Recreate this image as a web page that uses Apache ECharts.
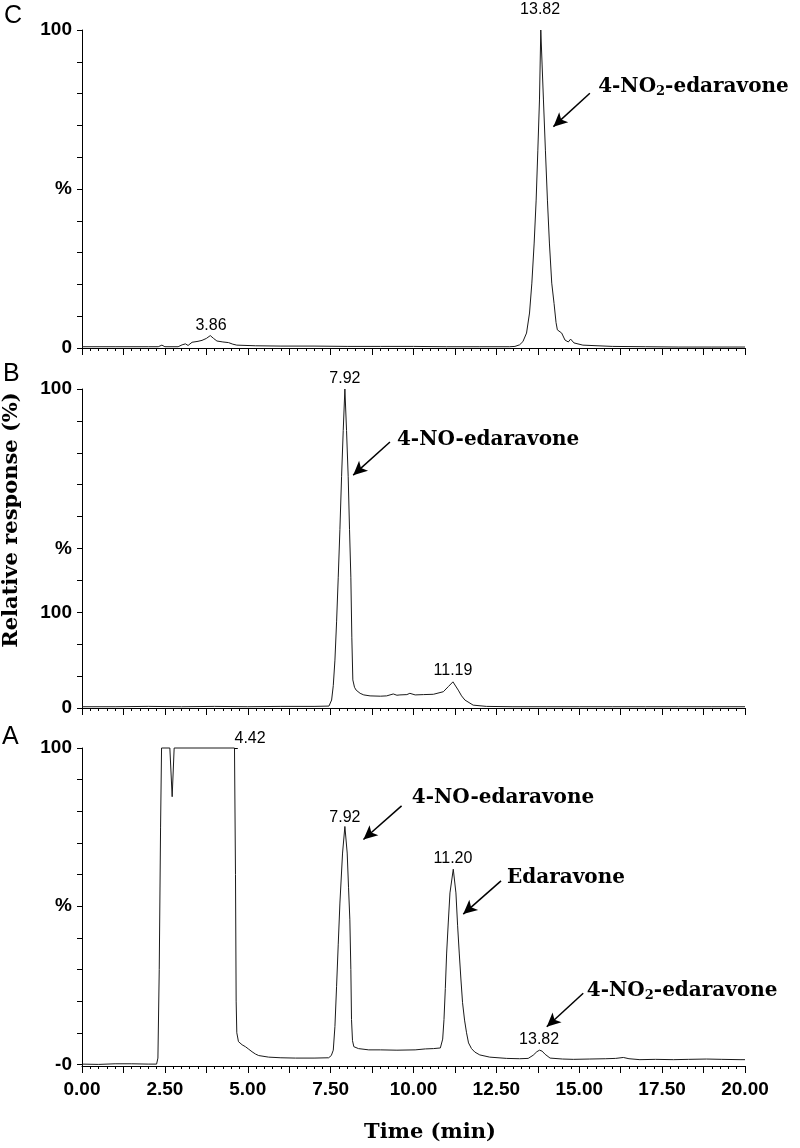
<!DOCTYPE html>
<html>
<head>
<meta charset="utf-8">
<script src="https://cdn.jsdelivr.net/npm/echarts@6/dist/echarts.min.js"></script>
<style>
html,body{margin:0;padding:0;background:#fff;}
#chart{width:800px;height:1148px;}
</style>
</head>
<body>
<div id="chart"></div>
<script>
// ---------- DATA ----------
const xTickLabels = ['0.00','2.50','5.00','7.50','10.00','12.50','15.00','17.50','20.00'];

// Panel C trace [time (min), relative response (%)]
const traceC = [[0,0.4],[1,0.4],[2,0.4],[2.3,0.4],[2.41,0.9],[2.5,0.4],[2.9,0.4],[3.02,1.0],[3.12,1.3],[3.2,0.8],
 [3.32,1.8],[3.5,2.1],[3.62,2.4],[3.75,3.0],[3.87,3.9],[3.97,3.0],[4.07,2.2],[4.25,1.9],[4.42,1.7],[4.55,1.2],
 [4.67,0.9],[5.23,0.7],[6,0.6],[7,0.6],[8,0.5],[9,0.5],[10,0.5],[11,0.4],[12,0.4],[12.9,0.4],[13.06,0.5],
 [13.2,1.0],[13.3,2.0],[13.41,4.7],[13.5,11],[13.57,20.4],[13.64,33],[13.7,46.5],[13.75,62],[13.8,78],[13.84,100],
 [13.88,89],[13.92,78],[13.98,62],[14.04,46.5],[14.1,33],[14.17,20.4],[14.24,14],[14.3,8],[14.34,5.7],[14.47,4.7],
 [14.57,2.5],[14.67,1.9],[14.74,2.8],[14.84,1.6],[15.11,0.9],[16,0.5],[17,0.4],[18,0.3],[19,0.3],[20,0.3]];

// Panel B trace
const traceB = [[0,0.4],[1,0.4],[2,0.5],[3,0.4],[4,0.5],[5,0.4],[6,0.5],[7,0.5],[7.45,0.6],[7.53,2.5],[7.58,7],
 [7.63,15],[7.68,27],[7.73,41],[7.78,56],[7.83,72.5],[7.88,87],[7.93,100],[7.98,87],[8.03,72.5],[8.07,56],[8.11,41],
 [8.14,22],[8.17,8.8],[8.22,6.5],[8.27,5.6],[8.39,4.6],[8.5,4.1],[8.69,3.8],[9.0,3.7],[9.19,3.8],[9.39,4.4],[9.5,4.0],
 [9.59,4.1],[9.8,4.2],[9.89,4.6],[10.05,4.1],[10.3,4.2],[10.6,4.3],[10.9,5.1],[11.05,6.7],[11.19,8.2],[11.35,5.6],
 [11.45,3.8],[11.55,2.5],[11.8,0.9],[12.2,0.5],[13,0.4],[14,0.4],[15,0.4],[16,0.4],[17,0.4],[18,0.4],[19,0.4],[20,0.4]];

// Panel A trace
const traceA = [[0,0.1],[0.5,0.0],[1.0,0.2],[1.5,0.2],[2.0,0.1],[2.25,0.1],[2.29,2],[2.33,30],[2.37,75],[2.4,100],
 [2.65,100],[2.72,84.6],[2.78,100],[4.6,100],[4.63,60],[4.65,20],[4.67,10],[4.72,7.2],[4.83,6.2],[4.93,5.6],[5.03,4.8],
 [5.13,4.0],[5.23,3.3],[5.33,2.8],[5.63,2.3],[6.0,2.1],[6.44,2.0],[7.0,2.0],[7.44,2.1],[7.52,2.8],[7.58,4.5],[7.63,12],
 [7.68,24.7],[7.73,38],[7.78,51],[7.86,66.8],[7.93,75.2],[8.0,66.8],[8.04,56],[8.08,45.7],[8.11,30],[8.13,14.2],
 [8.16,7.5],[8.2,5.6],[8.34,5.0],[8.65,4.6],[9.0,4.6],[9.5,4.5],[10.05,4.6],[10.36,4.9],[10.6,5.0],[10.81,5.2],
 [10.88,8],[10.92,14.2],[10.96,24],[11.0,35.2],[11.05,45],[11.1,54.2],[11.2,61.7],[11.28,54.2],[11.33,44],[11.38,35.2],
 [11.43,27],[11.48,19.5],[11.54,14],[11.6,10],[11.66,6.8],[11.75,5.0],[11.85,3.9],[12.0,3.0],[12.3,2.3],[12.81,1.9],
 [13.2,1.8],[13.46,1.9],[13.61,2.9],[13.72,4.0],[13.8,4.5],[13.88,4.2],[13.97,3.2],[14.12,2.0],[14.5,1.7],[14.82,1.6],
 [15.3,1.7],[15.8,1.8],[16.1,1.9],[16.33,2.2],[16.5,1.8],[16.83,1.5],[17.3,1.6],[17.84,1.5],[18.3,1.6],[18.84,1.7],
 [19.3,1.6],[19.85,1.5],[20,1.5]];

// Peak retention-time labels [time, value, text, pixel lift above the point]
const peakLabelsC = [[13.82,100,'13.82',20],[3.89,6.9,'3.86',0]];
const peakLabelsB = [[7.93,100,'7.92',10],[11.19,11.6,'11.19',0]];
const peakLabelsA = [[5.07,100,'4.42',9],[7.93,78.0,'7.92',0],[11.19,65.2,'11.20',0],[13.79,7.7,'13.82',0]];

// Compound annotations [time, value, rich text]
const compoundC = [[15.57,82.1,'{b|4-NO}{s|2}{b|-edaravone}']];
const compoundB = [[9.50,84.0,'{b|4-NO-edaravone}']];
const compoundA = [[9.95,84.2,'{b|4-NO-edaravone}'],[12.82,58.9,'{b|Edaravone}'],[15.23,23.2,'{b|4-NO}{s|2}{b|-edaravone}']];

// Arrows [fromTime, fromValue, toTime, toValue]
const arrowsC = [[15.32,80.1,14.22,69.6]];
const arrowsB = [[9.29,83.4,8.18,73.0]];
const arrowsA = [[9.64,81.7,8.49,71.1],[12.64,58.0,11.50,47.5],[15.12,22.5,14.02,11.9]];
const leaderA = [[4.60,100,4.70,100]];

// y-axis label maps
const yLabelsC = {0:'0',50:'%',100:'100'};
const yLabelsB = {0:'0',30:'100',50:'%',100:'100'};
const yLabelsA = {0:'-0',50:'%',100:'100'};

// ---------- STYLE ----------
const sans = 'Liberation Sans, Arial, sans-serif';
const serif = 'DejaVu Serif, serif';
const rich = {
  b:{fontFamily:serif,fontWeight:'bold',fontSize:20,color:'#000',lineHeight:24},
  s:{fontFamily:serif,fontWeight:'bold',fontSize:13,color:'#000',padding:[10,0,0,0]}
};

const grids = [
  {left:82,right:55,top:30,height:318},
  {left:82,right:55,top:389,height:319},
  {left:82,right:55,top:748,height:318}
];

function xAxisFor(i, showLabels){
  return {
    type:'value', gridIndex:i, min:0, max:20, interval:1.25,
    axisLine:{show:true,onZero:false,lineStyle:{color:'#000',width:1}},
    axisTick:{show:true,inside:false,length:7,lineStyle:{color:'#000',width:1}},
    minorTick:{show:true,splitNumber:5,length:3,lineStyle:{color:'#000',width:1}},
    splitLine:{show:false}, minorSplitLine:{show:false},
    axisLabel:{show:showLabels,margin:14,fontFamily:sans,fontWeight:'bold',fontSize:19,color:'#000',
      formatter:function(v){const k=Math.round(v/1.25);return k%2===0?xTickLabels[k/2]:'';}}
  };
}
function yAxisFor(i,map,min){
  const ax = {
    type:'value', gridIndex:i, min:min, max:100,
    axisLine:{show:true,onZero:false,lineStyle:{color:'#000',width:1}},
    axisTick:{show:true,inside:false,length:5,lineStyle:{color:'#000',width:1}},
    splitLine:{show:false},
    axisLabel:{show:true,margin:10,fontFamily:sans,fontWeight:'bold',fontSize:19,color:'#000',
      formatter:function(v){const r=Math.round(v);return map[r]!==undefined?map[r]:'';}}
  };
  if(min===0){ ax.interval=10; }
  else {
    ax.axisTick.customValues=[0,10,20,30,40,50,60,70,80,90,100];
    ax.axisLabel.customValues=Object.keys(map).map(Number);
  }
  return ax;
}

function makeSeries(i,trace,peaks,compounds,arrows,extraLines){
  const mp = [];
  peaks.forEach(p=>mp.push({coord:[p[0],p[1]],name:p[2],symbol:'circle',symbolSize:0,
    label:{show:true,position:'inside',offset:[0,-p[3]],formatter:p[2],fontFamily:sans,fontSize:16,color:'#000'}}));
  compounds.forEach(c=>mp.push({coord:[c[0],c[1]],name:'c',symbol:'circle',symbolSize:0,
    label:{show:true,position:'right',distance:0,formatter:c[2],rich:rich}}));
  const ml = [];
  arrows.forEach(a=>ml.push([{coord:[a[0],a[1]],symbol:'none'},{coord:[a[2],a[3]],symbol:'arrow',symbolSize:[10,14]}]));
  (extraLines||[]).forEach(a=>ml.push([{coord:[a[0],a[1]],symbol:'none',lineStyle:{width:1}},{coord:[a[2],a[3]],symbol:'none'}]));
  return {
    type:'line', xAxisIndex:i, yAxisIndex:i, data:trace, showSymbol:false, symbol:'none',
    clip:false, animation:false, silent:true,
    lineStyle:{color:'#1a1a1a',width:1},
    markPoint:{silent:true,animation:false,data:mp},
    markLine:{silent:true,animation:false,symbol:['none','arrow'],
      lineStyle:{color:'#000',width:1.5,type:'solid'},label:{show:false},emphasis:{disabled:true},data:ml}
  };
}

const chart = echarts.init(document.getElementById('chart'),null,{renderer:'canvas'});
chart.setOption({
  backgroundColor:'#fff',
  animation:false,
  grid:grids,
  xAxis:[xAxisFor(0,false),xAxisFor(1,false),xAxisFor(2,true)],
  yAxis:[yAxisFor(0,yLabelsC,0),yAxisFor(1,yLabelsB,0),yAxisFor(2,yLabelsA,-0.5)],
  series:[
    makeSeries(0,traceC,peakLabelsC,compoundC,arrowsC),
    makeSeries(1,traceB,peakLabelsB,compoundB,arrowsB),
    makeSeries(2,traceA,peakLabelsA,compoundA,arrowsA,leaderA)
  ],
  graphic:[
    {type:'text',left:4,top:4,style:{text:'C',fontFamily:sans,fontSize:25,fill:'#000'}},
    {type:'text',left:3,top:362,style:{text:'B',fontFamily:sans,fontSize:25,fill:'#000'}},
    {type:'text',left:2,top:725,style:{text:'A',fontFamily:sans,fontSize:25,fill:'#000'}},
    {type:'text',x:12,y:520,rotation:Math.PI/2,style:{text:'Relative response (%)',fontFamily:serif,fontWeight:'bold',fontSize:21,fill:'#000',align:'center',verticalAlign:'middle'}},
    {type:'text',x:430,y:1133,style:{text:'Time (min)',fontFamily:serif,fontWeight:'bold',fontSize:21,fill:'#000',align:'center',verticalAlign:'middle'}}
  ]
});
</script>
</body>
</html>
